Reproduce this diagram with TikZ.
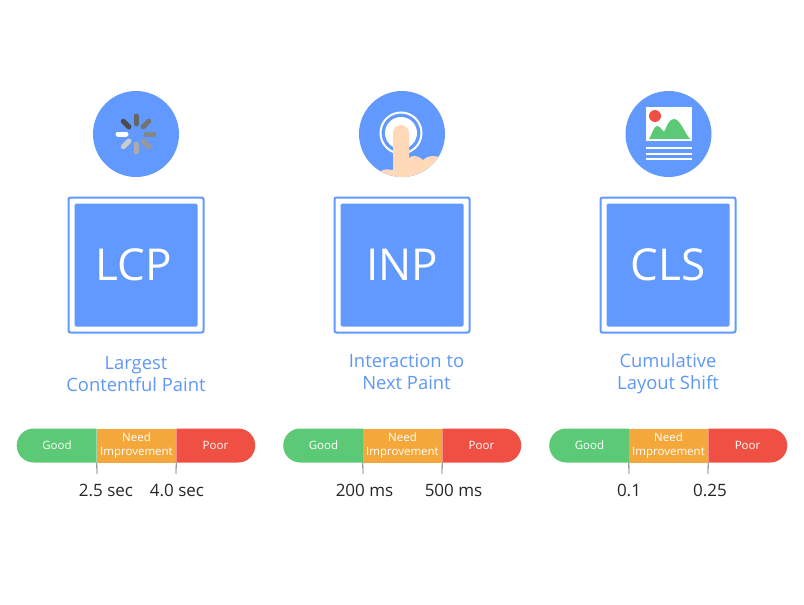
\documentclass[tikz,border=0pt]{standalone}
\usepackage{fontspec}
\setmainfont{Open Sans}
\usetikzlibrary{shapes.misc}
\definecolor{webblue}{HTML}{6199FF}
\definecolor{titleblue}{HTML}{5E97F6}
\definecolor{goodgreen}{HTML}{5CC977}
\definecolor{needorange}{HTML}{F4A73B}
\definecolor{poorred}{HTML}{EF5043}
\definecolor{skin}{HTML}{FFD9B8}
\tikzset{
  frame/.style={draw=webblue, line width=2pt, fill=white, rounded corners=2pt, minimum size=135pt, inner sep=0pt},
  metric/.style={fill=webblue, text=white, rounded corners=1.5pt, minimum size=123pt, inner sep=0pt, font=\fontsize{44}{44}\selectfont},
  badge/.style={circle, fill=webblue, minimum size=86pt, inner sep=0pt},
  title/.style={text=titleblue, align=center, font=\fontsize{18.4}{22}\selectfont, inner sep=0pt},
  cell/.style={text=white, minimum height=34pt, inner sep=0pt, align=center, font=\fontsize{11.5}{14}\selectfont},
  goodcell/.style={cell, fill=goodgreen, rounded rectangle, rounded rectangle east arc=none, minimum width=80pt},
  needcell/.style={cell, fill=needorange, minimum width=79pt},
  poorcell/.style={cell, fill=poorred, rounded rectangle, rounded rectangle west arc=none, minimum width=79pt},
  limit/.style={font=\fontsize{17}{17}\selectfont, text=black!85, inner sep=0pt},
  tick/.style={draw=black!60, line width=0.8pt},
  spoke/.style={line width=5pt, line cap=round},
  sheetline/.style={draw=white, line width=2pt}
}
\begin{document}
\begin{tikzpicture}[x=1pt, y=-1pt]
\useasboundingbox (0,0) rectangle (804,605);
% badges
\node[badge] (lcpbadge) at (136,134) {};
\node[badge] (inpbadge) at (402,134) {};
\node[badge] (clsbadge) at (668.5,134) {};
% spinner
\draw[spoke, white]     (lcpbadge.center) ++(180:10) -- ++(180:8);
\draw[spoke, black!70]  (lcpbadge.center) ++(225:10) -- ++(225:8);
\draw[spoke, black!60]  (lcpbadge.center) ++(270:10) -- ++(270:8);
\draw[spoke, black!55]  (lcpbadge.center) ++(315:10) -- ++(315:8);
\draw[spoke, black!48]  (lcpbadge.center) ++(  0:10) -- ++(  0:8);
\draw[spoke, black!40]  (lcpbadge.center) ++( 45:10) -- ++( 45:8);
\draw[spoke, black!33]  (lcpbadge.center) ++( 90:10) -- ++( 90:8);
\draw[spoke, black!20]  (lcpbadge.center) ++(135:10) -- ++(135:8);
% finger
\draw[white, line width=2pt] (401,133) circle (20.5);
\fill[white] (401,133) circle (16);
\begin{scope}
\clip (inpbadge.center) circle (43);
\fill[skin] (393,175) -- (393,133) arc[start angle=180, end angle=360, radius=8]
  -- (409,158) .. controls (412,155) and (418,155) .. (423,160)
  .. controls (428,155) and (436,155) .. (440,158) -- (445,180) -- (370,180) -- (381,171)
  .. controls (385,168) and (390,170) .. (393,170) -- cycle;
\end{scope}
% picture sheet
\fill[white] (646,107) rectangle (692,141);
\fill[poorred] (655,116) circle (6);
\fill[goodgreen] (649,139) .. controls (652,134) and (654,126) .. (657,126)
  .. controls (660,126) and (662,130) .. (664,132)
  .. controls (667,126) and (669,119) .. (674,119)
  .. controls (680,119) and (684,132) .. (690,139) -- cycle;
\draw[sheetline] (646,148) -- (692,148);
\draw[sheetline] (646,153.5) -- (692,153.5);
\draw[sheetline] (646,159) -- (692,159);
% metric boxes
\node[frame] (lcpframe) at (136,265) {};
\node[frame] (inpframe) at (402,265) {};
\node[frame] (clsframe) at (668,265) {};
\node[metric] (lcpbox) at (lcpframe) {\hspace{-4pt}LCP};
\node[metric] (inpbox) at (inpframe) {INP};
\node[metric] (clsbox) at (clsframe) {CLS};
% titles
\node[title] (lcptitle) at (136,374) {Largest\\Contentful Paint};
\node[title] (inptitle) at (406.5,372) {Interaction to\\Next Paint};
\node[title] (clstitle) at (668,373.5) {Cumulative\\Layout Shift};
% LCP scale
\node[goodcell] (lcpgood) at (57,445.5)    {Good};
\node[needcell] (lcpneed) at (136.5,445.5) {Need\\Improvement};
\node[poorcell] (lcppoor) at (215.5,445.5) {Poor};
\node[limit] (lcplow)  at (106,490.5) {2.5 sec};
\node[limit] (lcphigh) at (177,490.5) {4.0 sec};
\coordinate (lcpa) at (97,474);
\coordinate (lcpb) at (176,474);
\draw[tick] (lcpneed.south west) -- (lcpa);
\draw[tick] (lcpneed.south east) -- (lcpb);
% INP scale
\node[goodcell] (inpgood) at (323.5,445.5) {Good};
\node[needcell] (inpneed) at (402.5,445.5) {Need\\Improvement};
\node[poorcell] (inppoor) at (481.5,445.5) {Poor};
\node[limit] (inplow)  at (364.5,490.5) {200 ms};
\node[limit] (inphigh) at (453.5,490.5) {500 ms};
\coordinate (inpa) at (363,474);
\coordinate (inpb) at (442,474);
\draw[tick] (inpneed.south west) -- (inpa);
\draw[tick] (inpneed.south east) -- (inpb);
% CLS scale
\node[goodcell] (clsgood) at (589.5,445.5) {Good};
\node[needcell] (clsneed) at (668.5,445.5) {Need\\Improvement};
\node[poorcell] (clspoor) at (747.5,445.5) {Poor};
\node[limit] (clslow)  at (629,490.5) {0.1};
\node[limit] (clshigh) at (710,490.5) {0.25};
\coordinate (clsa) at (629,474);
\coordinate (clsb) at (708,474);
\draw[tick] (clsneed.south west) -- (clsa);
\draw[tick] (clsneed.south east) -- (clsb);
\end{tikzpicture}
\end{document}
